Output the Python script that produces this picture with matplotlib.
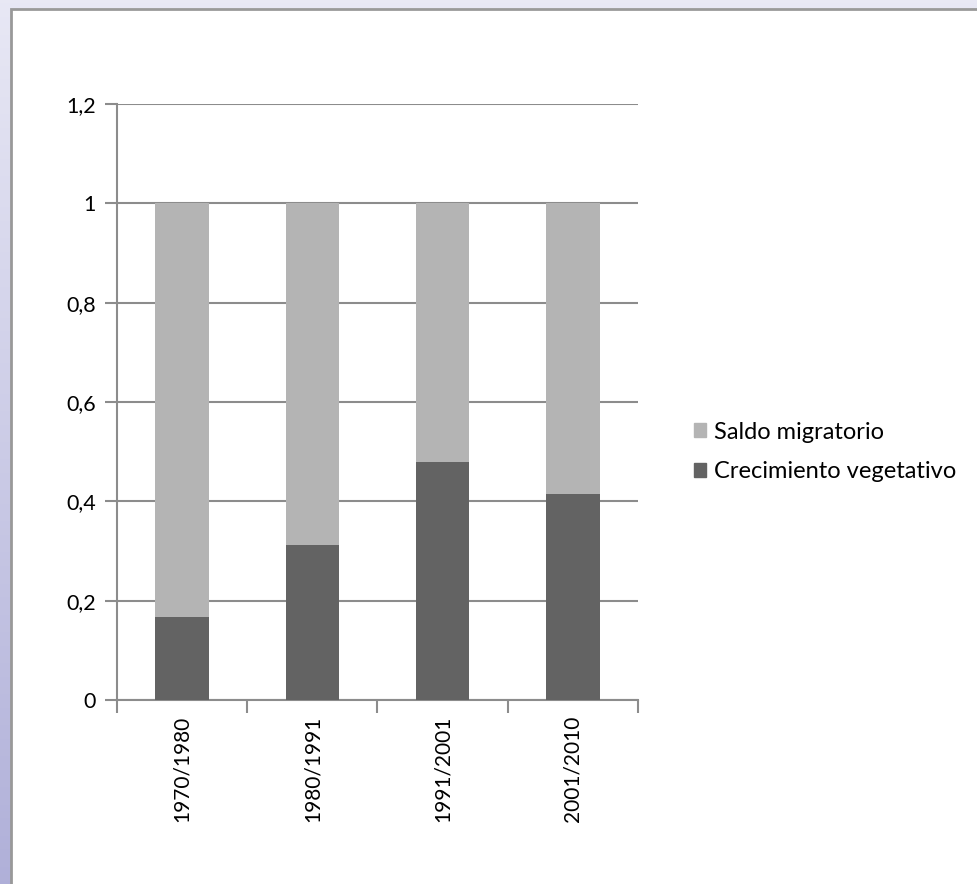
import matplotlib
matplotlib.use("Agg")
import matplotlib.pyplot as plt
import numpy as np
from matplotlib.patches import Rectangle, Patch

categories = ["1970/1980", "1980/1991", "1991/2001", "2001/2010"]
crecimiento = [0.168, 0.312, 0.479, 0.415]
saldo = [0.832, 0.688, 0.521, 0.585]
yticks = [0, 0.2, 0.4, 0.6, 0.8, 1.0, 1.2]
ytick_labels = ["0", "0,2", "0,4", "0,6", "0,8", "1", "1,2"]

plt.rcParams['font.family'] = ['Lato', 'DejaVu Sans']

W, H = 978, 884
fig = plt.figure(figsize=(W/100, H/100), dpi=100)

# background
bg = fig.add_axes([0, 0, 1, 1], zorder=-10)
grad = np.linspace(0, 1, 256).reshape(-1, 1)
c_top = np.array([0.91, 0.91, 0.96])
c_bot = np.array([0.69, 0.69, 0.85])
img = c_top[None, None, :] * (1 - grad[:, :, None]) + c_bot[None, None, :] * grad[:, :, None]
bg.imshow(img, aspect='auto', extent=[0, 1, 0, 1], origin='upper')
bg.add_patch(Rectangle((11.5/W, -0.01), 1.1, 1 - 8.5/H + 0.01, facecolor='white',
                       edgecolor='#999999', linewidth=2))
bg.set_xlim(0, 1); bg.set_ylim(0, 1)
bg.axis('off')

ax = fig.add_axes([117/W, 1 - 700/H, 521/W, 596/H])
x = np.arange(len(categories))
dark = '#636363'
light = '#b4b4b4'
ax.bar(x, crecimiento, width=0.41, color=dark, zorder=3, label="Crecimiento vegetativo")
ax.bar(x, saldo, width=0.41, bottom=crecimiento, color=light, zorder=3, label="Saldo migratorio")

ax.set_xlim(-0.5, len(categories) - 0.5)
ax.set_ylim(0, 1.2)
ax.set_yticks(yticks)
ax.set_yticklabels(ytick_labels, fontsize=15.5)
ax.yaxis.grid(True, color='#8c8c8c', linewidth=1.5, zorder=0)
ax.set_axisbelow(True)

ax.set_xticks(x)
ax.set_xticklabels(categories, rotation=90, fontsize=15, va='top')
ax.tick_params(axis='x', length=0, pad=11)
ax.set_xticks(np.arange(-0.5, len(categories), 1), minor=True)
ax.tick_params(axis='x', which='minor', length=9, width=1.5, color='#8c8c8c', direction='out')
ax.tick_params(axis='y', length=9, width=1.5, color='#8c8c8c', direction='out', pad=6)

for s in ['top', 'right']:
    ax.spines[s].set_visible(False)
for s in ['left', 'bottom']:
    ax.spines[s].set_color('#8c8c8c')
    ax.spines[s].set_linewidth(1.5)

handles = [Patch(color=light, label="Saldo migratorio"),
           Patch(color=dark, label="Crecimiento vegetativo")]
fig.legend(handles=handles, loc='center left', bbox_to_anchor=(694/W, 1 - 452/H),
           frameon=False, fontsize=17, handlelength=0.5, handleheight=0.5,
           handletextpad=0.35, borderpad=0, borderaxespad=0, labelspacing=0.8)

fig.savefig("out.png", dpi=100)
